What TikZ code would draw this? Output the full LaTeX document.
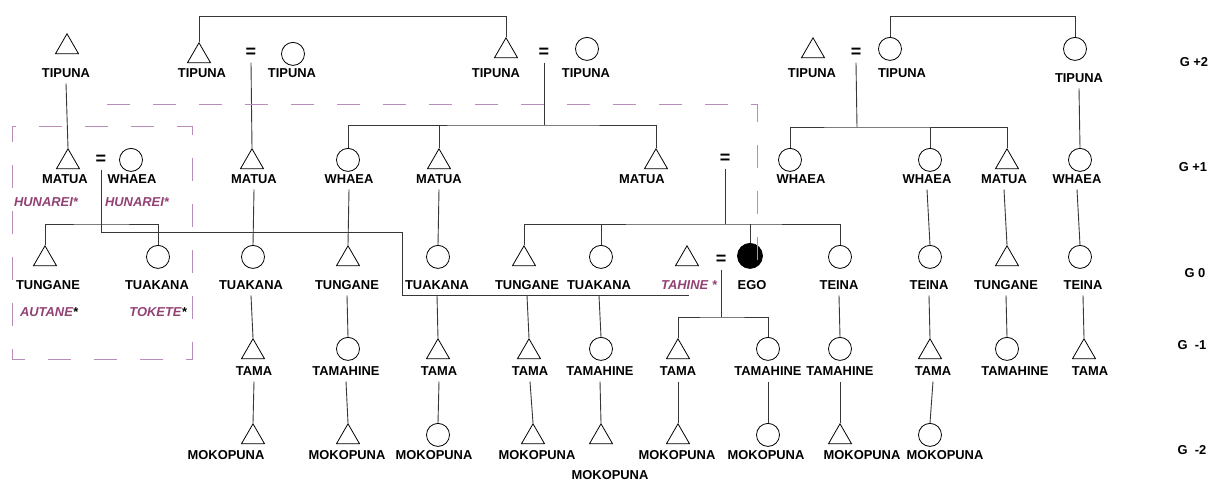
\documentclass[tikz,border=0pt]{standalone}
\usepackage{fontspec}
\setmainfont{Liberation Sans}
\usetikzlibrary{shapes.geometric}
\definecolor{kinpurple}{RGB}{145,65,115}
\definecolor{boxpurple}{RGB}{185,140,185}
\definecolor{kinline}{RGB}{55,55,55}

\begin{document}
\begin{tikzpicture}[x=1pt,y=-1pt,
        male/.style={draw, regular polygon, regular polygon sides=3, minimum size=26.6pt, inner sep=0pt, anchor=north, line width=0.8pt},
        fem/.style={draw, circle, minimum size=23pt, inner sep=0pt, anchor=north, line width=0.8pt},
        ego/.style={fem, minimum size=25pt, fill=black},
        lbl/.style={font=\fontsize{12.9pt}{14pt}\selectfont\bfseries, inner sep=1pt, text height=9pt, text depth=0pt, outer sep=5pt},
        alt/.style={lbl, font=\fontsize{12.9pt}{14pt}\selectfont\bfseries\itshape, text=kinpurple},
        eqs/.style={font=\fontsize{18pt}{18pt}\selectfont\bfseries, inner sep=0pt, outer sep=5pt},
        kin/.style={draw=kinline, line width=0.9pt},
        grp/.style={draw=boxpurple, line width=1pt, dash pattern=on 23pt off 23pt}]
        \useasboundingbox (0,0) rectangle (1211,481);

        % G +2
        \node[male] (a1) at (67,33) {};    \node[lbl] (a1n) at (66,73) {TIPUNA};
        \node[male] (a2) at (199,42) {};   \node[lbl] (a2n) at (202,73) {TIPUNA};
        \node[eqs] (eA) at (251,53) {=};
        \node[fem] (a3) at (293,42) {};    \node[lbl] (a3n) at (292,73) {TIPUNA};
        \node[male] (a4) at (506,37) {};   \node[lbl] (a4n) at (496,73) {TIPUNA};
        \node[eqs] (eB) at (544,53) {=};
        \node[fem] (a5) at (587,37) {};    \node[lbl] (a5n) at (586,73) {TIPUNA};
        \node[male] (a6) at (813,37) {};   \node[lbl] (a6n) at (812,73) {TIPUNA};
        \node[eqs] (eC) at (856,53) {=};
        \node[fem] (a7) at (890,37) {};    \node[lbl] (a7n) at (902,73) {TIPUNA};
        \node[fem] (a8) at (1075,37) {};   \node[lbl] (a8n) at (1079,78) {TIPUNA};

        % G +1
        \node[male] (b1) at (68,148) {};   \node[lbl] (b1n) at (65,179) {MATUA};
        \node[eqs] (eD) at (101,160) {=};
        \node[fem] (b2) at (131,148) {};   \node[lbl] (b2n) at (132,179) {WHAEA};
        \node[alt] (b1h) at (46,202) {HUNAREI*};
        \node[alt] (b2h) at (137,202) {HUNAREI*};
        \node[male] (b3) at (252,148) {};  \node[lbl] (b3n) at (254,179) {MATUA};
        \node[fem] (b4) at (348,148) {};   \node[lbl] (b4n) at (349,179) {WHAEA};
        \node[male] (b5) at (439,148) {};  \node[lbl] (b5n) at (439,179) {MATUA};
        \node[male] (b6) at (656,148) {};  \node[lbl] (b6n) at (642,179) {MATUA};
        \node[eqs] (eE) at (725,159) {=};
        \node[fem] (b7) at (790,148) {};   \node[lbl] (b7n) at (801,179) {WHAEA};
        \node[fem] (b8) at (930,148) {};   \node[lbl] (b8n) at (927,179) {WHAEA};
        \node[male] (b9) at (1007,148) {}; \node[lbl] (b9n) at (1004,179) {MATUA};
        \node[fem] (b10) at (1080,148) {}; \node[lbl] (b10n) at (1077,179) {WHAEA};

        % G 0
        \node[male] (c1) at (45,245) {};   \node[lbl] (c1n) at (48,285) {TUNGANE};
        \node[alt] (c1h) at (49,312) {AUTANE\textcolor{black}{*}};
        \node[fem] (c2) at (158,245) {};   \node[lbl] (c2n) at (157,285) {TUAKANA};
        \node[alt] (c2h) at (158,312) {TOKETE\textcolor{black}{*}};
        \node[fem] (c3) at (253,245) {};   \node[lbl] (c3n) at (251,285) {TUAKANA};
        \node[male] (c4) at (348,245) {};  \node[lbl] (c4n) at (347,285) {TUNGANE};
        \node[fem] (c5) at (438,245) {};   \node[lbl] (c5n) at (437,285) {TUAKANA};
        \node[male] (c6) at (524,245) {};  \node[lbl] (c6n) at (527,285) {TUNGANE};
        \node[fem] (c7) at (601,245) {};   \node[lbl] (c7n) at (599,285) {TUAKANA};
        \node[male] (c8) at (687,245) {};  \node[alt] (c8n) at (689,285) {TAHINE *};
        \node[eqs] (eF) at (721,260) {=};
        \node[ego] (c9) at (750,243) {};   \node[lbl] (c9n) at (752,285) {EGO};
        \node[fem] (c10) at (840,245) {};  \node[lbl] (c10n) at (839,285) {TEINA};
        \node[fem] (c11) at (930,245) {};  \node[lbl] (c11n) at (929,285) {TEINA};
        \node[male] (c12) at (1007,245) {}; \node[lbl] (c12n) at (1006,285) {TUNGANE};
        \node[fem] (c13) at (1080,245) {}; \node[lbl] (c13n) at (1083,285) {TEINA};

        % G -1
        \node[male] (d1) at (253,338) {};  \node[lbl] (d1n) at (254,371) {TAMA};
        \node[fem] (d2) at (348,337) {};   \node[lbl] (d2n) at (346,371) {TAMAHINE};
        \node[male] (d3) at (438,338) {};  \node[lbl] (d3n) at (439,371) {TAMA};
        \node[male] (d4) at (529,338) {};  \node[lbl] (d4n) at (530,371) {TAMA};
        \node[fem] (d5) at (601,337) {};   \node[lbl] (d5n) at (600,371) {TAMAHINE};
        \node[male] (d6) at (678,338) {};  \node[lbl] (d6n) at (678,371) {TAMA};
        \node[fem] (d7) at (768,337) {};   \node[lbl] (d7n) at (768,371) {TAMAHINE};
        \node[fem] (d8) at (840,337) {};   \node[lbl] (d8n) at (840,371) {TAMAHINE};
        \node[male] (d9) at (930,338) {};  \node[lbl] (d9n) at (933,371) {TAMA};
        \node[fem] (d10) at (1007,337) {}; \node[lbl] (d10n) at (1015,371) {TAMAHINE};
        \node[male] (d11) at (1084,338) {}; \node[lbl] (d11n) at (1090,371) {TAMA};

        % G -2
        \node[male] (e1) at (253,423) {};  \node[lbl] (e1n) at (226,455) {MOKOPUNA};
        \node[male] (e2) at (348,423) {};  \node[lbl] (e2n) at (347,455) {MOKOPUNA};
        \node[fem] (e3) at (438,423) {};   \node[lbl] (e3n) at (434,455) {MOKOPUNA};
        \node[male] (e4) at (533,423) {};  \node[lbl] (e4n) at (537,455) {MOKOPUNA};
        \node[male] (e5) at (601,423) {};  \node[lbl] (e5n) at (610,475) {MOKOPUNA};
        \node[male] (e6) at (678,423) {};  \node[lbl] (e6n) at (677,455) {MOKOPUNA};
        \node[fem] (e7) at (768,423) {};   \node[lbl] (e7n) at (766,455) {MOKOPUNA};
        \node[male] (e8) at (840,423) {};  \node[lbl] (e8n) at (862,455) {MOKOPUNA};
        \node[fem] (e9) at (930,423) {};   \node[lbl] (e9n) at (945,455) {MOKOPUNA};

        % generations
        \node[lbl] (g2) at (1194,62) {G +2};
        \node[lbl] (g1) at (1193,167) {G +1};
        \node[lbl] (g0) at (1195,273) {G 0};
        \node[lbl] (gm1) at (1192,345) {G\ \ -1};
        \node[lbl] (gm2) at (1192,450) {G\ \ -2};

        % sibling and marriage lines
        \coordinate (fB) at (544,125);
        \coordinate (fC) at (857,127);
        \coordinate (fD) at (101,224);
        \coordinate (fE) at (725,224);
        \coordinate (fF) at (721,317);

        \draw[kin] (a2.north) -- ++(0,-26) -| (a4.north);
        \draw[kin] (a7.north) -- ++(0,-21) -| (a8.north);
        \draw[kin] (eA.south) -- (b3.north);
        \draw[kin] (eB.south) -- (fB);
        \draw[kin] (b4.north) |- (fB) -| (b6.north);
        \draw[kin] (b5.north) -- (b5.north |- fB);
        \draw[kin] (eC.south) -- (fC);
        \draw[kin] (b7.north) |- (fC) -| (b9.north);
        \draw[kin] (b8.north) -- (b8.north |- fC);
        \draw[kin] (c1.north) |- (fD) -| (c2.north);
        \draw[kin] (eD.south) |- (402,232) |- (c8n.south);
        \draw[kin] (eE.south) -- (fE);
        \draw[kin] (c6.north) |- (fE) -| (c10.north);
        \draw[kin] (c7.north) -- (c7.north |- fE);
        \draw[kin] (c9.north) -- (c9.north |- fE);
        \draw[kin] (eF.south) -- (fF);
        \draw[kin] (d6.north) |- (fF) -| (d7.north);

        % descent lines
        \draw[kin] (a1n.south) -- (b1.north);
        \draw[kin] (a8n.south) -- (b10.north);
        \draw[kin] (b3n.south) -- (c3.north);
        \draw[kin] (c3n.south) -- (d1.north);
        \draw[kin] (d1n.south) -- (e1.north);
        \draw[kin] (b4n.south) -- (c4.north);
        \draw[kin] (c4n.south) -- (d2.north);
        \draw[kin] (d2n.south) -- (e2.north);
        \draw[kin] (b5n.south) -- (c5.north);
        \draw[kin] (c5n.south) -- (d3.north);
        \draw[kin] (d3n.south) -- (e3.north);
        \draw[kin] (c6n.south) -- (d4.north);
        \draw[kin] (d4n.south) -- (e4.north);
        \draw[kin] (c7n.south) -- (d5.north);
        \draw[kin] (d5n.south) -- (e5.north);
        \draw[kin] (d6n.south) -- (e6.north);
        \draw[kin] (d7n.south) -- (e7.north);
        \draw[kin] (c10n.south) -- (d8.north);
        \draw[kin] (d8n.south) -- (e8.north);
        \draw[kin] (b8n.south) -- (c11.north);
        \draw[kin] (c11n.south) -- (d9.north);
        \draw[kin] (d9n.south) -- (e9.north);
        \draw[kin] (b9n.south) -- (c12.north);
        \draw[kin] (c12n.south) -- (d10.north);
        \draw[kin] (b10n.south) -- (c13.north);
        \draw[kin] (c13n.south) -- (d11.north);

        % groupings
        \draw[grp] (107,105) -- (757,105) -- (757,262);
        \draw[grp, dash phase=19pt] (12,127) -- (192,127) -- (192,359) -- (12,359) -- cycle;
        %\draw[help lines] (0,0) grid[step=50] (1211,481);
    \end{tikzpicture}
\end{document}
